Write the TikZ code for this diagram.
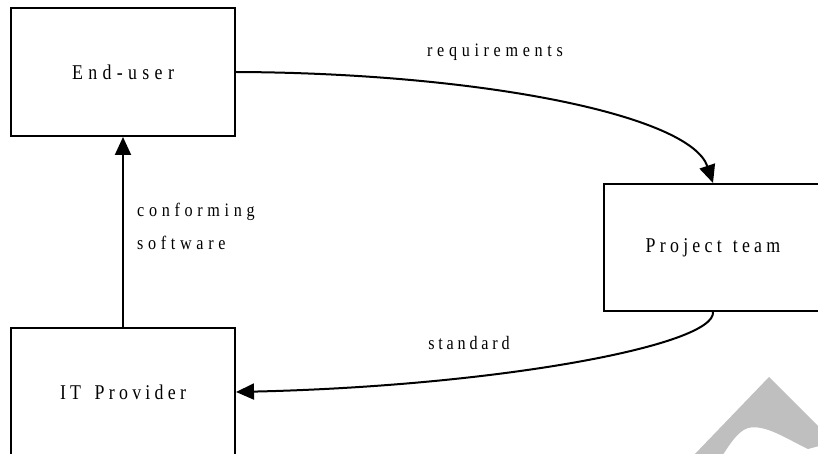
\documentclass[tikz,border=0pt]{standalone}
\usepackage{fontspec}
\newfontfamily\lblfont{Liberation Serif}
\usetikzlibrary{arrows.meta}
\newlength\lsgap
\setlength\lsgap{5.5pt}
\def\lsp#1{\lspA#1\relax\unskip}
\def\lspA#1{\ifx\relax#1\else#1\hspace{\lsgap}\expandafter\lspA\fi}
\newcommand\sptext[1]{\scalebox{0.85}[1]{#1}}
\begin{document}
\begin{tikzpicture}[x=1pt,y=-1pt,
  box/.style={draw=black,line width=2pt,inner sep=0pt,font=\lblfont\fontsize{21}{23}\selectfont},
  lbl/.style={inner sep=0pt,font=\lblfont\fontsize{19}{21}\selectfont},
  arr/.style={line width=2pt,-{Triangle[length=18pt,width=16pt]}}]
\useasboundingbox (0,0) rectangle (818,454);
\clip (0,0) rectangle (818,454);
% watermark-like grey shape
\fill[black!25] (693,456) -- (769,377) -- (834,442) -- (808,449)
  .. controls (785,438) and (765,424) .. (748,428)
  .. controls (738,431) and (730,444) .. (722,456) -- cycle;
\node[box,minimum width=224pt,minimum height=128pt] (eu) at (123,72)
  {\setlength\lsgap{6.3pt}\sptext{\lsp{End-user}}};
\node[box,minimum width=218pt,minimum height=127pt] (pt) at (713,247.5)
  {\setlength\lsgap{5pt}\sptext{\lsp{Project}\hspace{13pt}\lsp{team}}};
\node[box,minimum width=224pt,minimum height=128pt] (itp) at (123,392)
  {\setlength\lsgap{5pt}\sptext{\lsp{IT}\hspace{16pt}\lsp{Provider}}};
\draw[arr] (itp.north) -- (eu.south);
\draw[arr] (eu.east) .. controls (480,73) and (690,115) .. (pt.north);
\draw[arr] (pt.south) .. controls (716,345) and (500,386) .. (itp.east);
\node[lbl] (req) at (495,52) {\sptext{\lsp{requirements}}};
\node[lbl] (std) at (469,343) {\setlength\lsgap{4.5pt}\sptext{\lsp{standard}}};
\node[lbl,anchor=west] (conf) at (137,212) {\sptext{\lsp{conforming}}};
\node[lbl,anchor=west] (soft) at (137,243) {\sptext{\lsp{software}}};
\end{tikzpicture}
\end{document}
